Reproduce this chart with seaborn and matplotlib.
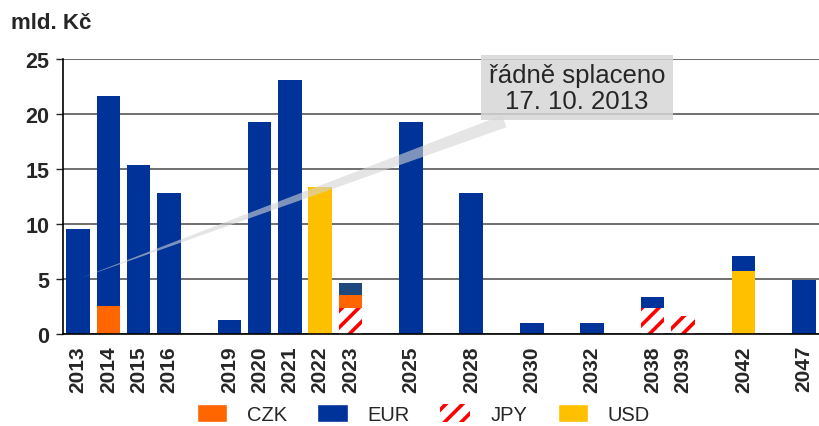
import numpy as np
import pandas as pd
import matplotlib
matplotlib.use('Agg')
import matplotlib.pyplot as plt
import seaborn as sns
from matplotlib.patches import Patch

# roky splatnosti ('' = prázdné místo na ose)
roky = ['2013', '2014', '2015', '2016', '', '2019', '2020', '2021', '2022', '2023',
        '', '2025', '', '2028', '', '2030', '', '2032', '', '2038', '2039', '',
        '2042', '', '2047']

# objemy v mld. Kč podle měny
jpy = [0, 0, 0, 0, 0, 0, 0, 0, 0, 2.4, 0, 0, 0, 0, 0, 0, 0, 0, 0, 2.4, 1.6, 0, 0, 0, 0]
czk = [0, 2.5, 0, 0, 0, 0, 0, 0, 0, 1.1, 0, 0, 0, 0, 0, 0, 0, 0, 0, 0, 0, 0, 0, 0, 0]
usd = [0, 0, 0, 0, 0, 0, 0, 0, 13.4, 0, 0, 0, 0, 0, 0, 0, 0, 0, 0, 0, 0, 0, 5.7, 0, 0]
eur = [9.5, 19.1, 15.4, 12.8, 0, 1.3, 19.3, 23.1, 0, 0, 0, 19.3, 0, 12.8, 0, 1.0, 0,
       1.0, 0, 1.0, 0, 0, 1.4, 0, 4.9]
ostatni = [0, 0, 0, 0, 0, 0, 0, 0, 0, 1.1, 0, 0, 0, 0, 0, 0, 0, 0, 0, 0, 0, 0, 0, 0, 0]

barvy = {'CZK': '#FF6600', 'EUR': '#003399', 'JPY': '#FF0000', 'USD': '#FFC000',
         'ostatni': '#1F497D'}

df = pd.DataFrame({'pozice': range(len(roky)), 'rok': roky,
                   'JPY': jpy, 'CZK': czk, 'USD': usd, 'EUR': eur, 'ostatni': ostatni})
# kumulativní součty pro skládané sloupce (kreslí se odzadu)
df['L1'] = df['JPY']
df['L2'] = df['L1'] + df['CZK']
df['L3'] = df['L2'] + df['USD']
df['L4'] = df['L3'] + df['EUR']
df['L5'] = df['L4'] + df['ostatni']

sns.set_style('white')
plt.rcParams['font.family'] = ['Liberation Sans', 'DejaVu Sans']
plt.rcParams['hatch.linewidth'] = 2.6

fig = plt.figure(figsize=(8.19, 4.27), dpi=100)
ax = fig.add_axes([0.077, 0.2155, 0.923, 0.644])

sirka = 0.78
vrstvy = [('L5', barvy['ostatni']), ('L4', barvy['EUR']), ('L3', barvy['USD']),
          ('L2', barvy['CZK'])]
for sloupec, barva in vrstvy:
    sns.barplot(data=df, x='pozice', y=sloupec, color=barva, saturation=1,
                width=sirka, linewidth=0, ax=ax, zorder=3)
sns.barplot(data=df, x='pozice', y='L1', color='white', saturation=1, width=sirka,
            linewidth=0, edgecolor=barvy['JPY'], hatch='//', ax=ax, zorder=3)

ax.set_ylim(0, 25)
ax.set_xlim(-0.5, 24.26)
ax.set_yticks([0, 5, 10, 15, 20, 25])
ax.set_yticklabels(['0', '5', '10', '15', '20', '25'], fontsize=15.5, fontweight='bold')
ax.set_xticks(range(len(roky)))
ax.set_xticklabels(roky, rotation=90, fontsize=15, fontweight='bold')
ax.set_xticks(np.arange(-0.5, len(roky)), minor=True)
ax.tick_params(axis='x', which='major', length=0, pad=8)
ax.tick_params(axis='x', which='minor', length=5, width=1, color='#555555', direction='out')
ax.tick_params(axis='y', length=5, width=1, direction='out', left=True, pad=5)
ax.set_xlabel('')
ax.set_ylabel('')
ax.yaxis.grid(True, color='#6f6f6f', linewidth=1.4, zorder=0)
ax.set_axisbelow(True)
for s in ['top', 'right']:
    ax.spines[s].set_visible(False)
for s in ['left', 'bottom']:
    ax.spines[s].set_color('black')
    ax.spines[s].set_linewidth(1.2)
    ax.spines[s].set_zorder(4)

fig.text(0.014, 0.945, 'mld. Kč', fontsize=16, fontweight='bold', va='center')

ax.annotate('řádně splaceno\n17. 10. 2013', xy=(0.1, 5.1), xytext=(16.5, 22.4),
            fontsize=18.5, ha='center', va='center', linespacing=1.1, zorder=6,
            bbox=dict(boxstyle='square,pad=0.3', fc='#d6d6d6', ec='none', alpha=0.85),
            arrowprops=dict(arrowstyle='wedge,tail_width=0.5', fc='#d4d4d4', ec='none',
                            alpha=0.6, relpos=(0.22, 0.0), shrinkB=0))

handles = [Patch(facecolor=barvy['CZK'], label='CZK'),
           Patch(facecolor=barvy['EUR'], label='EUR'),
           Patch(facecolor='white', edgecolor=barvy['JPY'], hatch='//', linewidth=0, label='JPY'),
           Patch(facecolor=barvy['USD'], label='USD')]
fig.legend(handles=handles, loc='center', bbox_to_anchor=(0.517, 0.028), ncol=4,
           frameon=False, fontsize=14.5, handlelength=1.5, handleheight=1.0,
           handletextpad=1.0, columnspacing=1.5)

fig.savefig('out.png', dpi=100)
